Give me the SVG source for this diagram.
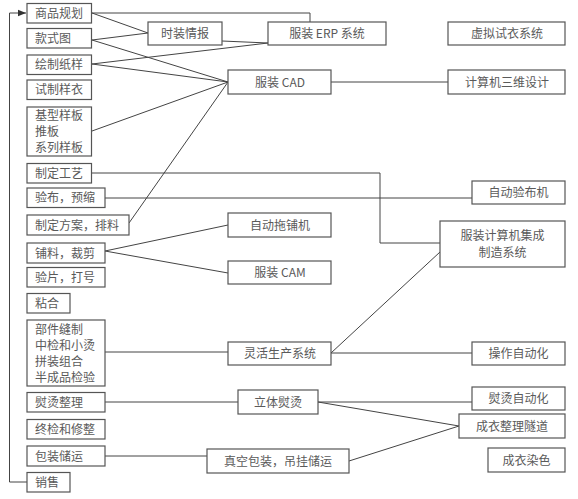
<svg xmlns="http://www.w3.org/2000/svg" width="578" height="499" viewBox="0 0 578 499">
<defs>
<style>
rect{fill:#fff;stroke:#555;stroke-width:1.2}
text{font-family:"Noto Sans CJK SC","Liberation Sans",sans-serif;font-size:12px;fill:#5a5a5a}
.c{text-anchor:middle}
#connectors path,#connectors line,#connectors polyline{fill:none;stroke:#444;stroke-width:1}
</style>
<marker id="arr" viewBox="0 0 10 10" refX="10" refY="5" markerWidth="8" markerHeight="8" markerUnits="userSpaceOnUse" orient="auto">
<path d="M0,1 L10,5 L0,9 z" fill="#333"/>
</marker>
</defs>
<rect width="578" height="499" style="fill:#fff;stroke:none"/>
<g id="connectors">
<polyline points="92,13 310,13 310,22"/>
<line x1="92" y1="13" x2="148" y2="33"/>
<line x1="92" y1="40" x2="148" y2="33"/>
<line x1="222" y1="41" x2="268" y2="43"/>
<line x1="92" y1="64" x2="268" y2="43"/>
<line x1="92" y1="40" x2="228" y2="82"/>
<line x1="92" y1="64" x2="228" y2="82"/>
<line x1="92" y1="131" x2="228" y2="82"/>
<line x1="129" y1="223" x2="228" y2="82"/>
<line x1="331" y1="82" x2="448" y2="82"/>
<polyline points="91,173 380,173 380,243 440,243"/>
<line x1="105" y1="198" x2="472" y2="198"/>
<line x1="105" y1="251" x2="228" y2="225"/>
<line x1="105" y1="251" x2="228" y2="273"/>
<line x1="105" y1="352" x2="228" y2="352"/>
<line x1="331" y1="353" x2="440" y2="252"/>
<line x1="331" y1="353" x2="472" y2="353"/>
<line x1="105" y1="402" x2="238" y2="402"/>
<line x1="318" y1="402" x2="472" y2="402"/>
<line x1="318" y1="402" x2="459" y2="426"/>
<line x1="105" y1="456" x2="207" y2="456"/>
<line x1="349" y1="461" x2="459" y2="426"/>
<polyline points="27,482 9.5,482 9.5,13 26,13" marker-end="url(#arr)"/>
</g>
<g id="n1"><rect x="27" y="3.5" width="64.5" height="19.5"/><text x="35" y="17.5">商品规划</text></g>
<g id="n2"><rect x="27" y="28.5" width="64.5" height="19.5"/><text x="35" y="42.5">款式图</text></g>
<g id="n3"><rect x="27" y="55" width="64.5" height="19.5"/><text x="35" y="69">绘制纸样</text></g>
<g id="n4"><rect x="27" y="80" width="64.5" height="19.5"/><text x="35" y="94">试制样衣</text></g>
<g id="n5"><rect x="27" y="107" width="64.5" height="49"/><text x="35" y="120">基型样板</text><text x="35" y="136">推板</text><text x="35" y="152">系列样板</text></g>
<g id="n6"><rect x="27" y="163.5" width="64.5" height="19.5"/><text x="35" y="177.5">制定工艺</text></g>
<g id="n7"><rect x="27" y="188" width="78" height="19.5"/><text x="35" y="202">验布，预缩</text></g>
<g id="n8"><rect x="27" y="215" width="102" height="20"/><text x="35" y="229.5">制定方案，排料</text></g>
<g id="n9"><rect x="27" y="243" width="78" height="20"/><text x="35" y="257.5">铺料，裁剪</text></g>
<g id="n10"><rect x="27" y="267.5" width="78" height="19.5"/><text x="35" y="281.5">验片，打号</text></g>
<g id="n11"><rect x="27" y="293.5" width="43" height="19.5"/><text x="35" y="307.5">粘合</text></g>
<g id="n12"><rect x="27" y="320" width="78" height="66"/><text x="35" y="333.5">部件缝制</text><text x="35" y="349.5">中检和小烫</text><text x="35" y="365.5">拼装组合</text><text x="35" y="381.5">半成品检验</text></g>
<g id="n13"><rect x="27" y="392.5" width="78" height="19.5"/><text x="35" y="406.5">熨烫整理</text></g>
<g id="n14"><rect x="27" y="419.5" width="78" height="19.5"/><text x="35" y="433.5">终检和修整</text></g>
<g id="n15"><rect x="27" y="446" width="78" height="20"/><text x="35" y="460.5">包装储运</text></g>
<g id="n16"><rect x="27" y="472.5" width="43" height="19.5"/><text x="35" y="486.5">销售</text></g>
<g id="m1"><rect x="148" y="22" width="74" height="23"/><text class="c" x="185" y="37.5">时装情报</text></g>
<g id="m2"><rect x="268" y="22" width="118" height="23"/><text class="c" x="327" y="37.5">服装 ERP 系统</text></g>
<g id="m3"><rect x="448" y="22" width="117" height="23"/><text class="c" x="507" y="37.5">虚拟试衣系统</text></g>
<g id="m4"><rect x="228" y="70" width="103" height="24"/><text class="c" x="280" y="86.5">服装 CAD</text></g>
<g id="m5"><rect x="448" y="70" width="117" height="24"/><text class="c" x="507" y="86.5">计算机三维设计</text></g>
<g id="m6"><rect x="472" y="181" width="93" height="23"/><text class="c" x="518.5" y="196.5">自动验布机</text></g>
<g id="m7"><rect x="440" y="221" width="125" height="46"/><text class="c" x="502.5" y="240">服装计算机集成</text><text class="c" x="502.5" y="257">制造系统</text></g>
<g id="m8"><rect x="228" y="213" width="103" height="24"/><text class="c" x="280" y="229.5">自动拖铺机</text></g>
<g id="m9"><rect x="228" y="261" width="103" height="23"/><text class="c" x="280" y="277">服装 CAM</text></g>
<g id="m10"><rect x="228" y="342" width="103" height="23"/><text class="c" x="280" y="357.5">灵活生产系统</text></g>
<g id="m11"><rect x="472" y="342" width="93" height="23"/><text class="c" x="518.5" y="357.5">操作自动化</text></g>
<g id="m12"><rect x="238" y="390" width="80" height="24"/><text class="c" x="278" y="406.5">立体熨烫</text></g>
<g id="m13"><rect x="472" y="387" width="93" height="23"/><text class="c" x="518.5" y="402.5">熨烫自动化</text></g>
<g id="m14"><rect x="459" y="414" width="106" height="24"/><text class="c" x="512" y="430.5">成衣整理隧道</text></g>
<g id="m15"><rect x="207" y="449" width="142" height="24"/><text class="c" x="278" y="465.5">真空包装，吊挂储运</text></g>
<g id="m16"><rect x="488" y="448" width="77" height="24"/><text class="c" x="526.5" y="464.5">成衣染色</text></g>
</svg>
